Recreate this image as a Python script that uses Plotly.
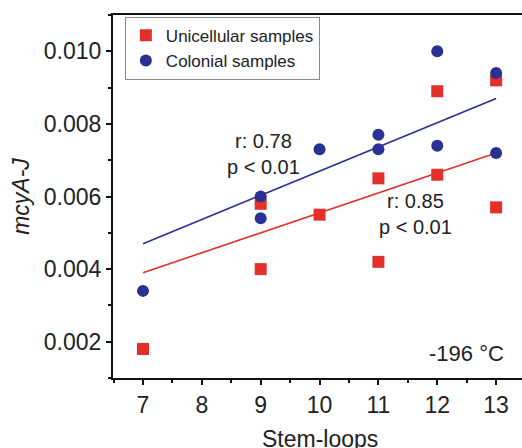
import plotly.graph_objects as go

# Data
uni_x = [7, 9, 9, 10, 11, 11, 12, 12, 13, 13]
uni_y = [0.0018, 0.0058, 0.0040, 0.0055, 0.0065, 0.0042, 0.0089, 0.0066, 0.0092, 0.0057]
col_x = [7, 9, 9, 10, 11, 11, 12, 12, 13, 13]
col_y = [0.0034, 0.0060, 0.0054, 0.0073, 0.0077, 0.0073, 0.0100, 0.0074, 0.0094, 0.0072]
fit_x = [7, 13]
uni_fit = [0.0039, 0.0072]
col_fit = [0.0047, 0.0087]

RED = "#E3302B"
BLUE = "#2B3192"
FONT = "Liberation Sans, Arial, sans-serif"

fig = go.Figure()
fig.add_trace(go.Scatter(x=fit_x, y=col_fit, mode="lines", line=dict(color=BLUE, width=1.6),
                         showlegend=False, hoverinfo="skip"))
fig.add_trace(go.Scatter(x=fit_x, y=uni_fit, mode="lines", line=dict(color=RED, width=1.6),
                         showlegend=False, hoverinfo="skip"))
fig.add_trace(go.Scatter(x=uni_x, y=uni_y, mode="markers", name="Unicellular samples",
                         marker=dict(symbol="square", size=12, color=RED)))
fig.add_trace(go.Scatter(x=col_x, y=col_y, mode="markers", name="Colonial samples",
                         marker=dict(symbol="circle", size=12, color=BLUE)))

fig.add_annotation(x=9.04, y=0.00716, text="r: 0.78<br>p < 0.01", showarrow=False,
                   font=dict(size=20, color="#222"), xref="x", yref="y")
fig.add_annotation(x=11.63, y=0.00553, text="r: 0.85<br>p < 0.01", showarrow=False,
                   font=dict(size=20, color="#222"), xref="x", yref="y")
fig.add_annotation(x=13.16, y=0.00167, text="-196 °C", showarrow=False, xanchor="right",
                   font=dict(size=22, color="#222"), xref="x", yref="y")
# x-axis title (placed low, partly cut by the bottom edge as in the reference)
fig.add_annotation(x=10, y=-0.128, xref="x", yref="paper", text="Stem-loops", showarrow=False,
                   xanchor="center", yanchor="top", font=dict(size=23, color="#222"))

fig.update_layout(
    width=522, height=448,
    margin=dict(l=113, r=0, t=15, b=70),
    paper_bgcolor="white", plot_bgcolor="white",
    font=dict(family=FONT, color="#222"),
    legend=dict(x=0.029, y=0.995, xanchor="left", yanchor="top",
                bordercolor="#888", borderwidth=1, bgcolor="white",
                font=dict(size=17), tracegroupgap=0),
    xaxis=dict(range=[6.49, 13.44], tickvals=[7, 8, 9, 10, 11, 12, 13],
               automargin=False,
               showline=True, linecolor="#111", linewidth=2, mirror=True,
               ticks="outside", ticklen=5, tickwidth=1.5, tickcolor="#111",
               minor=dict(ticks="outside", dtick=0.5, tick0=6.5, ticklen=3, tickwidth=1.5, tickcolor="#111"),
               showgrid=False, zeroline=False,
               tickfont=dict(size=23)),
    yaxis=dict(range=[0.001, 0.011], tickvals=[0.002, 0.004, 0.006, 0.008, 0.010],
               ticktext=["0.002", "0.004", "0.006", "0.008", "0.010"],
               automargin=False,
               showline=True, linecolor="#111", linewidth=2, mirror=False,
               ticks="outside", ticklen=5, tickwidth=1.5, tickcolor="#111",
               minor=dict(ticks="outside", dtick=0.001, tick0=0.001, ticklen=3, tickwidth=1.5, tickcolor="#111"),
               showgrid=False, zeroline=False,
               tickfont=dict(size=23),
               title=dict(text="<i>mcyA-J</i>", font=dict(size=23), standoff=8)),
)

fig.write_html("out.html", config={"displayModeBar": False},
               post_script="document.body.style.margin='0';document.body.style.overflow='hidden';")
